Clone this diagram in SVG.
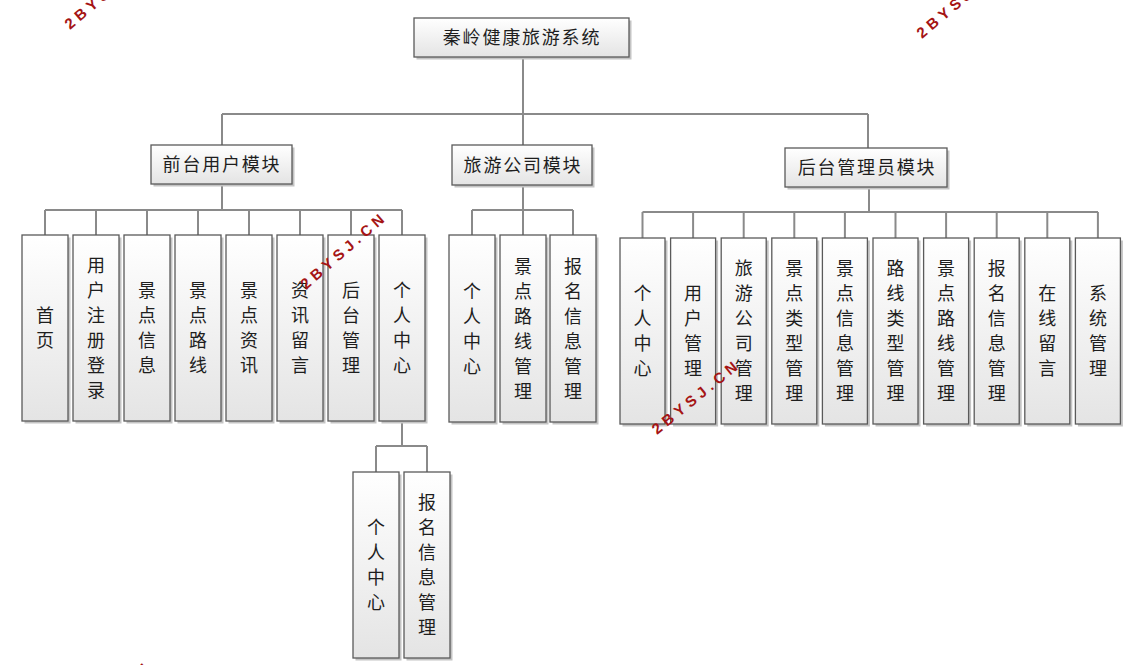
<svg xmlns="http://www.w3.org/2000/svg" width="1126" height="665" viewBox="0 0 1126 665">
<defs>
<linearGradient id="g" x1="0" y1="0" x2="0" y2="1">
<stop offset="0" stop-color="#ffffff"/>
<stop offset="1" stop-color="#e4e4e4"/>
</linearGradient>
<style>
.box{fill:url(#g);stroke:#5a5a5a;stroke-width:1.3}
.sh{fill:#c4c4c4}
.t{font-family:"Noto Sans CJK SC","Noto Sans CJK JP",sans-serif;font-size:18px;fill:#1e1e1e;text-anchor:middle}
.h{letter-spacing:1.8px}
.c{fill:none;stroke:#8a8a8a;stroke-width:2}
.wm{font-family:"Liberation Sans",Arial,sans-serif;font-weight:bold;font-size:15px;letter-spacing:4.5px;fill:#a51414}
</style>
</defs>
<rect width="1126" height="665" fill="#ffffff"/>
<g id="connectors" class="c">
<path d="M523,57V114M222,114H868M222,114V145M523,114V145M868,114V148"/>
<path d="M222,184V210M45,210H402M45,210V235M96,210V235M147,210V235M198,210V235M249,210V235M300,210V235M351,210V235M402,210V235"/>
<path d="M523,185V210M472,210H573M472,210V235M523,210V235M573,210V235"/>
<path d="M869,187V212M642.5,212H1098M642.5,212V238M693.1,212V238M743.7,212V238M794.3,212V238M844.9,212V238M895.5,212V238M946.1,212V238M996.7,212V238M1047.3,212V238M1097.9,212V238"/>
<path d="M402,421V446M376,446H427M376,446V472M427,446V472"/>
</g>
<g id="root"><rect class="sh" x="416.5" y="20.5" width="215" height="39"/><rect class="box" x="414" y="18" width="215" height="39"/><text class="t h" x="522" y="44">秦岭健康旅游系统</text></g>
<g id="m1"><rect class="sh" x="153.5" y="147.5" width="141" height="39"/><rect class="box" x="151" y="145" width="141" height="39"/><text class="t h" x="222" y="171">前台用户模块</text></g>
<g id="m2"><rect class="sh" x="454.5" y="147.5" width="140" height="40"/><rect class="box" x="452" y="145" width="140" height="40"/><text class="t h" x="523" y="171.5">旅游公司模块</text></g>
<g id="m3"><rect class="sh" x="787.5" y="150.5" width="162" height="39"/><rect class="box" x="785" y="148" width="162" height="39"/><text class="t h" x="867" y="174">后台管理员模块</text></g>

<g id="a1"><rect class="sh" x="24.5" y="237.5" width="46" height="186"/><rect class="box" x="22" y="235" width="46" height="186"/><text class="t"><tspan x="45" y="322">首</tspan><tspan x="45" y="347">页</tspan></text></g>
<g id="a2"><rect class="sh" x="75.5" y="237.5" width="46" height="186"/><rect class="box" x="73" y="235" width="46" height="186"/><text class="t"><tspan x="96" y="272">用</tspan><tspan x="96" y="297">户</tspan><tspan x="96" y="322">注</tspan><tspan x="96" y="347">册</tspan><tspan x="96" y="372">登</tspan><tspan x="96" y="397">录</tspan></text></g>
<g id="a3"><rect class="sh" x="126.5" y="237.5" width="46" height="186"/><rect class="box" x="124" y="235" width="46" height="186"/><text class="t"><tspan x="147" y="297">景</tspan><tspan x="147" y="322">点</tspan><tspan x="147" y="347">信</tspan><tspan x="147" y="372">息</tspan></text></g>
<g id="a4"><rect class="sh" x="177.5" y="237.5" width="46" height="186"/><rect class="box" x="175" y="235" width="46" height="186"/><text class="t"><tspan x="198" y="297">景</tspan><tspan x="198" y="322">点</tspan><tspan x="198" y="347">路</tspan><tspan x="198" y="372">线</tspan></text></g>
<g id="a5"><rect class="sh" x="228.5" y="237.5" width="46" height="186"/><rect class="box" x="226" y="235" width="46" height="186"/><text class="t"><tspan x="249" y="297">景</tspan><tspan x="249" y="322">点</tspan><tspan x="249" y="347">资</tspan><tspan x="249" y="372">讯</tspan></text></g>
<g id="a6"><rect class="sh" x="279.5" y="237.5" width="46" height="186"/><rect class="box" x="277" y="235" width="46" height="186"/><text class="t"><tspan x="300" y="297">资</tspan><tspan x="300" y="322">讯</tspan><tspan x="300" y="347">留</tspan><tspan x="300" y="372">言</tspan></text></g>
<g id="a7"><rect class="sh" x="330.5" y="237.5" width="46" height="186"/><rect class="box" x="328" y="235" width="46" height="186"/><text class="t"><tspan x="351" y="297">后</tspan><tspan x="351" y="322">台</tspan><tspan x="351" y="347">管</tspan><tspan x="351" y="372">理</tspan></text></g>
<g id="a8"><rect class="sh" x="381.5" y="237.5" width="46" height="186"/><rect class="box" x="379" y="235" width="46" height="186"/><text class="t"><tspan x="402" y="297">个</tspan><tspan x="402" y="322">人</tspan><tspan x="402" y="347">中</tspan><tspan x="402" y="372">心</tspan></text></g>

<g id="s1"><rect class="sh" x="355.5" y="474.5" width="46" height="186"/><rect class="box" x="353" y="472" width="46" height="186"/><text class="t"><tspan x="376" y="534">个</tspan><tspan x="376" y="559">人</tspan><tspan x="376" y="584">中</tspan><tspan x="376" y="609">心</tspan></text></g>
<g id="s2"><rect class="sh" x="406.5" y="474.5" width="46" height="186"/><rect class="box" x="404" y="472" width="46" height="186"/><text class="t"><tspan x="427" y="509">报</tspan><tspan x="427" y="534">名</tspan><tspan x="427" y="559">信</tspan><tspan x="427" y="584">息</tspan><tspan x="427" y="609">管</tspan><tspan x="427" y="634">理</tspan></text></g>

<g id="b1"><rect class="sh" x="451.5" y="237.5" width="46" height="187"/><rect class="box" x="449" y="235" width="46" height="187"/><text class="t"><tspan x="472" y="297.5">个</tspan><tspan x="472" y="322.5">人</tspan><tspan x="472" y="347.5">中</tspan><tspan x="472" y="372.5">心</tspan></text></g>
<g id="b2"><rect class="sh" x="502.5" y="237.5" width="46" height="187"/><rect class="box" x="500" y="235" width="46" height="187"/><text class="t"><tspan x="523" y="272.5">景</tspan><tspan x="523" y="297.5">点</tspan><tspan x="523" y="322.5">路</tspan><tspan x="523" y="347.5">线</tspan><tspan x="523" y="372.5">管</tspan><tspan x="523" y="397.5">理</tspan></text></g>
<g id="b3"><rect class="sh" x="552.5" y="237.5" width="46" height="187"/><rect class="box" x="550" y="235" width="46" height="187"/><text class="t"><tspan x="573" y="272.5">报</tspan><tspan x="573" y="297.5">名</tspan><tspan x="573" y="322.5">信</tspan><tspan x="573" y="347.5">息</tspan><tspan x="573" y="372.5">管</tspan><tspan x="573" y="397.5">理</tspan></text></g>

<g id="c1"><rect class="sh" x="622.5" y="240.5" width="45" height="186"/><rect class="box" x="620" y="238" width="45" height="186"/><text class="t"><tspan x="642.5" y="300">个</tspan><tspan x="642.5" y="325">人</tspan><tspan x="642.5" y="350">中</tspan><tspan x="642.5" y="375">心</tspan></text></g>
<g id="c2"><rect class="sh" x="673.1" y="240.5" width="45" height="186"/><rect class="box" x="670.6" y="238" width="45" height="186"/><text class="t"><tspan x="693.1" y="300">用</tspan><tspan x="693.1" y="325">户</tspan><tspan x="693.1" y="350">管</tspan><tspan x="693.1" y="375">理</tspan></text></g>
<g id="c3"><rect class="sh" x="723.7" y="240.5" width="45" height="186"/><rect class="box" x="721.2" y="238" width="45" height="186"/><text class="t"><tspan x="743.7" y="275">旅</tspan><tspan x="743.7" y="300">游</tspan><tspan x="743.7" y="325">公</tspan><tspan x="743.7" y="350">司</tspan><tspan x="743.7" y="375">管</tspan><tspan x="743.7" y="400">理</tspan></text></g>
<g id="c4"><rect class="sh" x="774.3" y="240.5" width="45" height="186"/><rect class="box" x="771.8" y="238" width="45" height="186"/><text class="t"><tspan x="794.3" y="275">景</tspan><tspan x="794.3" y="300">点</tspan><tspan x="794.3" y="325">类</tspan><tspan x="794.3" y="350">型</tspan><tspan x="794.3" y="375">管</tspan><tspan x="794.3" y="400">理</tspan></text></g>
<g id="c5"><rect class="sh" x="824.9" y="240.5" width="45" height="186"/><rect class="box" x="822.4" y="238" width="45" height="186"/><text class="t"><tspan x="844.9" y="275">景</tspan><tspan x="844.9" y="300">点</tspan><tspan x="844.9" y="325">信</tspan><tspan x="844.9" y="350">息</tspan><tspan x="844.9" y="375">管</tspan><tspan x="844.9" y="400">理</tspan></text></g>
<g id="c6"><rect class="sh" x="875.5" y="240.5" width="45" height="186"/><rect class="box" x="873" y="238" width="45" height="186"/><text class="t"><tspan x="895.5" y="275">路</tspan><tspan x="895.5" y="300">线</tspan><tspan x="895.5" y="325">类</tspan><tspan x="895.5" y="350">型</tspan><tspan x="895.5" y="375">管</tspan><tspan x="895.5" y="400">理</tspan></text></g>
<g id="c7"><rect class="sh" x="926.1" y="240.5" width="45" height="186"/><rect class="box" x="923.6" y="238" width="45" height="186"/><text class="t"><tspan x="946.1" y="275">景</tspan><tspan x="946.1" y="300">点</tspan><tspan x="946.1" y="325">路</tspan><tspan x="946.1" y="350">线</tspan><tspan x="946.1" y="375">管</tspan><tspan x="946.1" y="400">理</tspan></text></g>
<g id="c8"><rect class="sh" x="976.7" y="240.5" width="45" height="186"/><rect class="box" x="974.2" y="238" width="45" height="186"/><text class="t"><tspan x="996.7" y="275">报</tspan><tspan x="996.7" y="300">名</tspan><tspan x="996.7" y="325">信</tspan><tspan x="996.7" y="350">息</tspan><tspan x="996.7" y="375">管</tspan><tspan x="996.7" y="400">理</tspan></text></g>
<g id="c9"><rect class="sh" x="1027.3" y="240.5" width="45" height="186"/><rect class="box" x="1024.8" y="238" width="45" height="186"/><text class="t"><tspan x="1047.3" y="300">在</tspan><tspan x="1047.3" y="325">线</tspan><tspan x="1047.3" y="350">留</tspan><tspan x="1047.3" y="375">言</tspan></text></g>
<g id="c10"><rect class="sh" x="1077.9" y="240.5" width="45" height="186"/><rect class="box" x="1075.4" y="238" width="45" height="186"/><text class="t"><tspan x="1097.9" y="300">系</tspan><tspan x="1097.9" y="325">统</tspan><tspan x="1097.9" y="350">管</tspan><tspan x="1097.9" y="375">理</tspan></text></g>

<g id="watermarks">
<text class="wm" transform="translate(70,30) rotate(-40)">2BYSJ.CN</text>
<text class="wm" transform="translate(922,39) rotate(-40)">2BYSJ.CN</text>
<text class="wm" transform="translate(306,290) rotate(-41)">2BYSJ.CN</text>
<text class="wm" transform="translate(657,435) rotate(-39)">2BYSJ.CN</text>
<text class="wm" transform="translate(69,738) rotate(-40)">2BYSJ.CN</text>
</g>
</svg>
